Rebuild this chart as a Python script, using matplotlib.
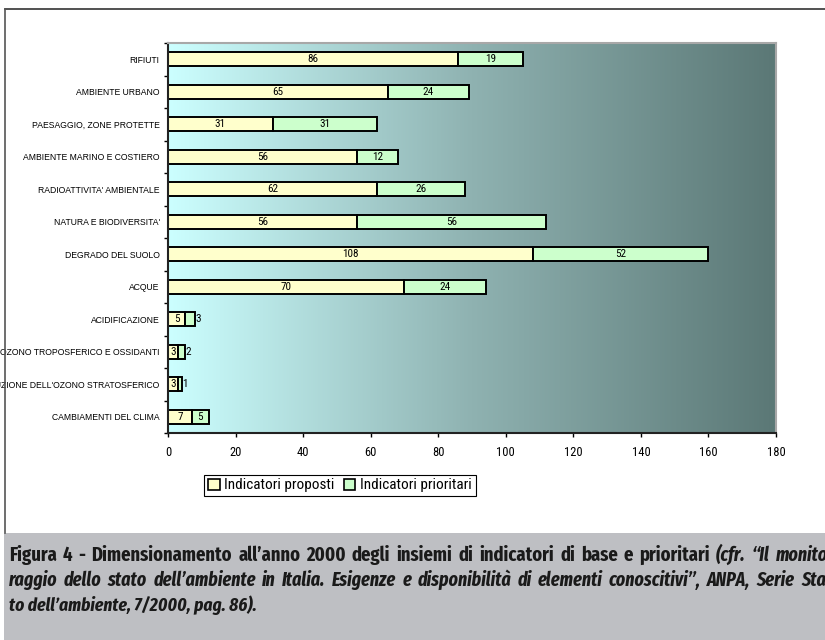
import numpy as np
import matplotlib.pyplot as plt
from matplotlib.colors import LinearSegmentedColormap
from matplotlib.patches import Patch, Rectangle
from matplotlib.lines import Line2D

# temi ambientali, dal basso verso l'alto
temi = [
    "CAMBIAMENTI DEL CLIMA",
    "RIDUZIONE DELL'OZONO STRATOSFERICO",
    "OZONO TROPOSFERICO E OSSIDANTI",
    "ACIDIFICAZIONE",
    "ACQUE",
    "DEGRADO DEL SUOLO",
    "NATURA E BIODIVERSITA'",
    "RADIOATTIVITA' AMBIENTALE",
    "AMBIENTE MARINO E COSTIERO",
    "PAESAGGIO, ZONE PROTETTE",
    "AMBIENTE URBANO",
    "RIFIUTI",
]
proposti = [7, 3, 3, 5, 70, 108, 56, 62, 56, 31, 65, 86]
prioritari = [5, 1, 2, 3, 24, 52, 56, 26, 12, 31, 24, 19]
xticks = [0, 20, 40, 60, 80, 100, 120, 140, 160, 180]

col_prop = "#ffffcc"
col_prio = "#ccffcc"
narrow = ["Roboto Condensed", "DejaVu Sans"]
cond = ["Fira Sans Extra Condensed", "DejaVu Sans"]

fig = plt.figure(figsize=(8.25, 6.4), dpi=100)
ax = fig.add_axes([168 / 825, 1 - 433 / 640, 608 / 825, 390 / 640])

# sfondo sfumato dell'area del grafico
sfondo = LinearSegmentedColormap.from_list("sfondo", ["#ccffff", "#8fb2b1", "#5b7876"])
grad = np.linspace(0, 1, 256).reshape(1, -1)
ax.imshow(grad, cmap=sfondo, extent=[0, 180, -0.5, 11.5], aspect="auto", zorder=0)

y = np.arange(len(temi))
h = 0.43
ax.barh(y, proposti, height=h, color=col_prop, edgecolor="black", linewidth=1.4, zorder=2)
ax.barh(y, prioritari, left=proposti, height=h, color=col_prio, edgecolor="black",
        linewidth=1.4, zorder=2)

for i in range(len(temi)):
    ax.text(proposti[i] / 2, y[i], str(proposti[i]), ha="center", va="center",
            fontsize=8, family=narrow, zorder=3)
    if prioritari[i] >= 4:
        ax.text(proposti[i] + prioritari[i] / 2, y[i], str(prioritari[i]), ha="center",
                va="center", fontsize=8, family=narrow, zorder=3)
    else:
        # segmenti troppo corti: etichetta subito dopo la barra
        ax.text(proposti[i] + prioritari[i] + 0.2, y[i], str(prioritari[i]), ha="left",
                va="center", fontsize=8, family=narrow, zorder=3)

ax.set_xlim(0, 180)
ax.set_ylim(-0.5, 11.5)
ax.set_xticks(xticks)
ax.set_xticklabels([str(v) for v in xticks], fontsize=9, family=narrow)
ax.set_yticks(y)
ax.set_yticklabels(temi, fontsize=6.2, family="Liberation Sans")
ax.set_yticks(np.arange(-0.5, 12, 1), minor=True)
ax.tick_params(axis="y", which="major", length=0, pad=6)
ax.tick_params(axis="y", which="minor", length=3, width=1, direction="out")
ax.tick_params(axis="x", length=3, width=1, direction="out", pad=6)

for s in ["left", "bottom"]:
    ax.spines[s].set_linewidth(1.5)
    ax.spines[s].set_color("#222222")
for s in ["top", "right"]:
    ax.spines[s].set_linewidth(1.5)
    ax.spines[s].set_color("#a8a8a8")

handles = [Patch(facecolor=col_prop, edgecolor="black", linewidth=1.2),
           Patch(facecolor=col_prio, edgecolor="black", linewidth=1.2)]
leg = fig.legend(handles, ["Indicatori proposti", "Indicatori prioritari"], loc="center",
                 bbox_to_anchor=(340 / 825, 1 - 485.5 / 640), ncol=2, fancybox=False,
                 framealpha=1, edgecolor="black", handlelength=0.75, handleheight=0.75,
                 handletextpad=0.3, columnspacing=0.6, borderpad=0.25,
                 prop={"family": narrow, "size": 11})
leg.get_frame().set_linewidth(0.8)

# cornice esterna e fascia della didascalia
fig.add_artist(Line2D([5 / 825, 1], [1 - 9 / 640, 1 - 9 / 640], color="#333333", lw=1.2))
fig.add_artist(Line2D([5 / 825, 5 / 825], [1 - 9 / 640, 1 - 533 / 640], color="#555555", lw=1.2))
fig.add_artist(Rectangle((4 / 825, 0), 1, 1 - 533 / 640, facecolor="#bebfc3",
                         edgecolor="none", transform=fig.transFigure))

cap = dict(family=cond, fontweight="bold", va="baseline", color="#1a1a1a")
renderer = fig.canvas.get_renderer()


def riga_giustificata(parti, ypix, x0, x1):
    # una riga di testo giustificata: le parole sono distribuite tra x0 e x1 (pixel)
    parole = []
    for testo, stile, size in parti:
        for p in testo.split():
            t = fig.text(0, 1 - ypix / 640, p, style=stile, fontsize=size, **cap)
            parole.append((t, t.get_window_extent(renderer).width))
    spazio = (x1 - x0 - sum(w for _, w in parole)) / (len(parole) - 1)
    x = x0
    for t, w in parole:
        t.set_x(x / 825)
        x += w + spazio


riga_giustificata([("Figura 4 - Dimensionamento all\u2019anno 2000 degli insiemi di indicatori "
                    "di base e prioritari", "normal", 14.5),
                   ("(cfr. \u201cIl monito", "italic", 14)], 561, 9, 828)
riga_giustificata([("raggio dello stato dell\u2019ambiente in Italia. Esigenze e disponibilit\u00e0 "
                    "di elementi conoscitivi\u201d, ANPA, Serie Sta", "italic", 14)], 586, 9, 826)
fig.text(9 / 825, 1 - 611 / 640, "to dell\u2019ambiente, 7/2000, pag. 86).", style="italic",
         fontsize=13.6, **cap)

fig.savefig("out.png", dpi=100)
